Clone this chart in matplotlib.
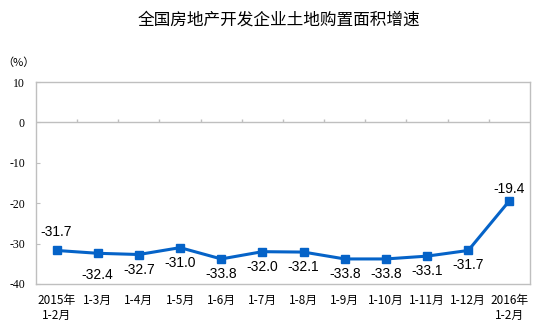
import matplotlib.pyplot as plt

plt.rcParams['font.family'] = ['Noto Sans CJK SC', 'DejaVu Sans']

# 全国房地产开发企业土地购置面积增速 (%)
months = ['2015年\n1-2月', '1-3月', '1-4月', '1-5月', '1-6月', '1-7月', '1-8月',
          '1-9月', '1-10月', '1-11月', '1-12月', '2016年\n1-2月']
growth = [-31.7, -32.4, -32.7, -31.0, -33.8, -32.0, -32.1, -33.8, -33.8, -33.1, -31.7, -19.4]
yticks = [10, 0, -10, -20, -30, -40]

line_color = '#0563C8'
frame_color = '#BFBFBF'

fig = plt.figure(figsize=(5.34, 3.32), dpi=100)
ax = fig.add_axes([0.0674, 0.1446, 0.9251, 0.6084])

x = list(range(len(growth)))
ax.plot(x, growth, color=line_color, lw=2.2, marker='s', ms=5.5, zorder=3)

# labels above the first and last point, below the others
for i, v in enumerate(growth):
    if i == 0:
        dy = 18
    elif i == len(growth) - 1:
        dy = 12
    elif i == 1:
        dy = -22
    else:
        dy = -15
    ax.annotate('%.1f' % v, (i, v), xytext=(0, dy), textcoords='offset pixels',
                ha='center', va='center', fontsize=10, family='Liberation Sans')

ax.set_xlim(-0.5, len(growth) - 0.5)
ax.set_ylim(-40, 10)
ax.set_yticks(yticks)
ax.set_yticklabels([str(t) for t in yticks], fontsize=8.5, family='Liberation Serif')
ax.set_xticks(x)
ax.set_xticklabels(months, fontsize=8.5, linespacing=1.25)
ax.tick_params(axis='y', direction='in', length=3, color=frame_color, pad=8)
ax.tick_params(axis='x', length=0, pad=7)

for s in ax.spines.values():
    s.set_color(frame_color)
    s.set_linewidth(1)

# category axis crossing at zero
ax.axhline(0, color=frame_color, lw=1, zorder=1)
bounds = [i + 0.5 for i in x[:-1]]
ax.vlines(bounds, 0, 0.8, color=frame_color, lw=1, zorder=1)

fig.text(0.523, 0.94, '全国房地产开发企业土地购置面积增速', ha='center', va='center', fontsize=12)
fig.text(0.005, 0.812, '（%）', ha='left', va='center', fontsize=8)

fig.savefig('out.png', dpi=100)
